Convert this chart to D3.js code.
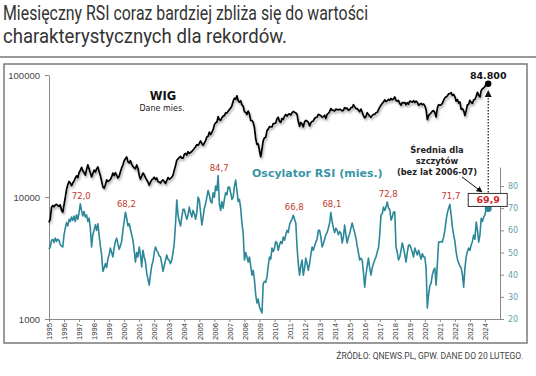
<!DOCTYPE html>
<html><head><meta charset="utf-8">
<script src="https://cdn.jsdelivr.net/npm/d3@7"></script>
<style>body{margin:0;background:#fff}svg{display:block}</style>
</head><body>
<svg id="c" width="536" height="376"></svg>
<script>
const titleLines = ["Miesięczny RSI coraz bardziej zbliża się do wartości", "charakterystycznych dla rekordów."];
const sourceText = "ŹRÓDŁO: QNEWS.PL, GPW. DANE DO 20 LUTEGO.";
const startYear = 1995;
const yearTicks = [1995,1996,1997,1998,1999,2000,2001,2002,2003,2004,2005,2006,2007,2008,2009,2010,2011,2012,2013,2014,2015,2016,2017,2018,2019,2020,2021,2022,2023,2024];
const wigTicks = [1000, 10000, 100000];
const rsiTicks = [20, 30, 40, 50, 60, 70, 80];

// WIG, monthly, from Jan 1995 to Feb 2024
const wigMonthly = [
 6200,6600,8200,8500,8300,8600,8700,8500,8400,8600,7800,7500,
 8600,9900,11500,12600,13400,13000,12400,13000,13500,14300,14900,14400,
 15800,16500,17500,16400,15800,15100,16800,18300,17000,15800,14600,15600,
 16600,16000,17000,17600,16200,15000,13500,12100,11800,12500,13800,13400,
 13600,13900,14600,15700,15000,15800,15100,14300,14800,16000,17300,18300,
 19800,20600,21300,19500,19000,19800,18600,17800,17300,17000,18300,17200,
 15100,14000,14800,15700,15200,14400,13800,13300,12500,13200,13800,14100,
 14500,13900,14300,13400,13200,13000,13500,13800,13400,12900,13600,14400,
 14000,14200,14500,15100,16600,18000,20000,20500,21000,21500,20800,20800,
 22300,22800,22000,23500,22800,23200,23600,24300,25000,25800,26800,26600,
 27500,28800,27500,26500,27700,29000,31000,31500,34000,32500,33800,35600,
 39000,40500,41000,45500,43000,42500,44500,46000,46500,49000,48800,50400,
 52000,53500,56000,61000,64500,63000,67500,61500,60000,61500,57000,55600,
 50000,49500,47500,50500,48000,42500,42300,41000,37000,30000,27000,27200,
 24000,21300,24500,29000,30500,30800,35000,36000,37700,37600,37500,39900,
 40000,40500,43800,45000,41500,40900,44000,43200,45900,47500,46000,47500,
 48000,47000,48900,50200,49500,48900,47500,41500,38000,40800,39700,37600,
 41300,42400,41900,41000,38200,40500,41600,42000,44000,45000,45200,47500,
 47000,46500,45000,45500,46800,44000,47500,48500,50000,53000,51500,51300,
 50600,52500,52000,51800,52400,51800,50800,51200,54000,53000,53500,51400,
 52000,54000,54000,57000,55000,53000,53000,51500,50000,52500,49500,46500,
 44500,45800,49000,47500,46000,45000,46500,47500,47500,49000,49300,51800,
 54500,56500,58500,60000,62500,60500,61500,63000,62000,64200,62500,63700,
 66000,62000,61000,61800,58500,56500,59500,59000,59500,57000,59300,57700,
 61000,60500,60000,61500,59500,61000,59800,56500,57500,58500,57000,57800,
 56000,52000,43000,46500,47800,49000,50500,51000,49000,45300,53500,57000,
 56500,57000,58500,62000,65000,66000,67500,70000,70500,71500,68000,69300,
 66500,61000,63000,59000,60000,52500,53000,51000,46500,51000,57000,57500,
 62000,59500,58500,62500,63000,67000,72000,68000,66000,74500,77000,78500,
 80500,84800
];

// Monthly RSI oscillator, Jan 1995 to Feb 2024
const rsiMonthly = [
 51.5,52.5,55.5,56,54.5,56.5,55,56,55.5,53.5,53,52.5,
 58,61,63.5,62,65,64,66,64.5,66.5,64,67,65,
 68,72,69,66.5,68.5,66,67,64,65.5,61,52.5,58,
 60,62.5,60,63,58,53,49,41.5,43,45,43.3,47,
 49,52,50,48,52,55,56.5,54,51.5,53,55,60,
 64,68.2,65.5,62,63,60.5,58,55.6,51,45.7,50,48,
 52.5,49,43.5,51,48,45.7,40.7,38,35.3,40,44,46,
 50,52.5,51,50,48.5,48,45,41.5,44,46.5,48.9,47,
 46.5,45,46.6,50,54.3,63,73.7,67,64,62,66,69.5,
 69.5,67,65,67,70.5,68,66,69,67.5,65,68,75,
 73.7,68,62.4,66,70,72,75,78,76,73,72.3,77,
 75,80,78,84.7,72,69,73,70,74,77,76,79.5,
 79.5,77,74,75,80,82.7,78,73,74,70,63.3,58.8,
 46.6,50,48,45.7,48,44,39.8,42,37.6,31,27.2,29,
 25.4,24,22.7,36,37,36.5,39,44,48,47,52,50.5,
 52,55,54.3,51,53.4,55,54,57,55.5,58,60,59,
 62.4,64,65,66.8,65,63.3,52.5,45,39.8,44,46.6,39.8,
 43,47.5,45,42,45,49,52.5,51,53,54.7,56,60,
 60,57,52.5,54,56,58,59,61,63.3,68.1,64,61,
 59,61,60,58,59.5,58.8,54.3,57,62.4,58,54.3,57,
 58.5,61,63.3,61,59,56.5,53,50,46.6,47.5,46.6,41,
 34.4,40,44,47.5,43,39.8,43,45,46.6,48,50.2,52,
 58,66.9,67.5,70.5,69,70.5,72.8,70,69.5,64.6,66,68.3,
 68.3,52.5,50,46.6,48,51,54.3,52,49,45.7,50,53.4,
 53.4,52,50,48,52,50.5,48.9,51,49,47,49.5,48,
 48,43,25,31,35,36.2,40,42,43,35.3,45,54.7,
 54.7,55,54.7,57,60,64.6,68,70,71.7,67,61.5,58,
 55,50.2,47,45.3,44,43,40,34.4,43,48,50.5,52,
 51,53.4,55,57.9,56,63.8,60,54.7,58,65.5,64,66,
 67,69.9
];

const peakMonths = [25, 61, 135, 195, 225, 270, 320];
const peakLabels = ["72,0", "68,2", "84,7", "66,8", "68,1", "72,8", "71,7"];
const lastWigLabel = "84.800";
const lastRsiLabel = "69,9";
const wigName = "WIG", wigSub = "Dane mies.";
const rsiName = "Oscylator RSI (mies.)";
const noteLines = ["Średnia dla", "szczytów", "(bez lat 2006-07)"];

const svg = d3.select("#c");
const date = i => startYear + i / 12;

const x = d3.scaleLinear().domain([1995, 2025]).range([49, 500]);
const yW = d3.scaleLog().domain([1000, 100000]).range([319, 75]);
const yR = d3.scaleLinear().domain([20, 88.6]).range([319, 167]);

// defs
const defs = svg.append("defs");
const f = defs.append("filter").attr("id","sh").attr("x","-5%").attr("y","-5%").attr("width","110%").attr("height","120%");
f.append("feDropShadow").attr("dx",1).attr("dy",2).attr("stdDeviation",1.3).attr("flood-color","#777").attr("flood-opacity",0.6);
defs.append("marker").attr("id","ah").attr("viewBox","0 0 10 10").attr("refX",9).attr("refY",5)
  .attr("markerWidth",6).attr("markerHeight",6).attr("orient","auto-start-reverse")
  .append("path").attr("d","M0,0L10,5L0,10z").attr("fill","#111");

// Title
svg.selectAll("text.title").data(titleLines).join("text").attr("class","title")
  .attr("x",3).attr("y",(d,i)=>20+i*23)
  .attr("font-family","'Liberation Sans Narrow','Roboto',sans-serif").attr("font-size",19.5)
  .attr("fill","#333")
  .attr("textLength",(d,i)=>i===0?365:284).attr("lengthAdjust","spacingAndGlyphs")
  .text(d=>d);
svg.append("line").attr("x1",0).attr("x2",536).attr("y1",57).attr("y2",57).attr("stroke","#9a9a9a").attr("stroke-width",2);

// Frame
svg.append("rect").attr("x",4).attr("y",64).attr("width",523).attr("height",279)
  .attr("fill","none").attr("stroke","#7a7a7a").attr("stroke-width",1.5);

// Source
svg.append("text").attr("x",523).attr("y",359).attr("text-anchor","end")
  .attr("font-family","'Liberation Sans Narrow','Roboto',sans-serif").attr("font-size",8.5)
  .attr("fill","#444").text(sourceText);

// Axes
const gL = svg.append("g").attr("transform","translate(49,0)")
  .call(d3.axisLeft(yW).tickValues(wigTicks).tickFormat(d3.format("d")).tickSize(4).tickPadding(5).tickSizeOuter(0));
gL.selectAll("text").attr("font-family","'Liberation Sans',Arial,sans-serif").attr("font-size",9.5).attr("fill","#444");

const gB = svg.append("g").attr("transform","translate(0,319)")
  .call(d3.axisBottom(x).tickValues(yearTicks).tickFormat(d3.format("d")).tickSize(3).tickSizeOuter(0));
gB.selectAll("text").attr("transform","rotate(-90)").attr("text-anchor","end")
  .attr("x",-4).attr("y",0).attr("dy","0.35em")
  .attr("font-family","'Liberation Sans',Arial,sans-serif").attr("font-size",7.6).attr("fill","#333");

const gR = svg.append("g").attr("transform","translate(500,0)")
  .call(d3.axisRight(yR).tickValues(rsiTicks).tickSize(4).tickPadding(4).tickSizeOuter(0));
gR.selectAll("text").attr("font-family","'DejaVu Sans',sans-serif").attr("font-size",8).attr("fill","#5f9fae");

[gL,gB,gR].forEach(g=>{g.selectAll("path,line").attr("stroke","#8a8a8a");});

// Lines
const wigLine = d3.line().x((d,i)=>x(date(i))).y(d=>yW(d));
const rsiLine = d3.line().x((d,i)=>x(date(i))).y(d=>yR(d));

svg.append("path").datum(rsiMonthly).attr("d",rsiLine).attr("fill","none")
  .attr("stroke","#2c8798").attr("stroke-width",1.6).attr("stroke-linejoin","round");
svg.append("path").datum(wigMonthly).attr("d",wigLine).attr("fill","none")
  .attr("stroke","#000").attr("stroke-width",1.8).attr("stroke-linejoin","round").attr("filter","url(#sh)");

// Peak labels
svg.selectAll("text.pk").data(peakMonths).join("text").attr("class","pk")
  .attr("x",d=>x(date(d))+1).attr("y",d=>yR(rsiMonthly[d])-5).attr("text-anchor","middle")
  .attr("font-family","'DejaVu Sans',sans-serif").attr("font-size",8.5).attr("fill","#c0392b")
  .text((d,i)=>peakLabels[i]);

// Series names
svg.append("text").attr("x",163).attr("y",100).attr("text-anchor","middle")
  .attr("font-family","'DejaVu Sans',sans-serif").attr("font-weight","bold").attr("font-size",11.5).attr("fill","#111").text(wigName);
svg.append("text").attr("x",162).attr("y",111).attr("text-anchor","middle")
  .attr("font-family","'DejaVu Sans',sans-serif").attr("font-size",8).attr("fill","#222").text(wigSub);
svg.append("text").attr("x",252).attr("y",177)
  .attr("font-family","'DejaVu Sans',sans-serif").attr("font-weight","bold").attr("font-size",11).attr("fill","#3a95a6").text(rsiName);

// Last points
const li = wigMonthly.length - 1;
const lx = x(date(li)) + 2;
svg.append("line").attr("x1",lx).attr("x2",lx).attr("y1",yR(rsiMonthly[li])-16).attr("y2",yW(wigMonthly[li])+7)
  .attr("stroke","#111").attr("stroke-width",1.2).attr("stroke-dasharray","1.5,1.5").attr("marker-end","url(#ah)");
svg.append("circle").attr("cx",lx).attr("cy",yW(wigMonthly[li])).attr("r",3.2).attr("fill","#000");
svg.append("text").attr("x",lx).attr("y",yW(wigMonthly[li])-5).attr("text-anchor","middle")
  .attr("font-family","'DejaVu Sans',sans-serif").attr("font-weight","bold").attr("font-size",9.5).attr("fill","#111").text(lastWigLabel);

svg.append("circle").attr("cx",lx).attr("cy",yR(rsiMonthly[li])).attr("r",3.5).attr("fill","#2c8798");
const by = yR(rsiMonthly[li]) - 15;
svg.append("rect").attr("x",lx-20).attr("y",by).attr("width",39).attr("height",13)
  .attr("fill","#fff").attr("stroke","#333").attr("stroke-width",1);
svg.append("text").attr("x",lx).attr("y",by+10).attr("text-anchor","middle")
  .attr("font-family","'DejaVu Sans',sans-serif").attr("font-weight","bold").attr("font-size",9.5).attr("fill","#d0282a").text(lastRsiLabel);

// Note
svg.selectAll("text.note").data(noteLines).join("text").attr("class","note")
  .attr("x",437).attr("y",(d,i)=>153+i*11).attr("text-anchor","middle")
  .attr("font-family","'DejaVu Sans',sans-serif").attr("font-weight","bold").attr("font-size",8.3).attr("fill","#222").text(d=>d);
svg.append("line").attr("x1",462).attr("y1",177).attr("x2",482).attr("y2",192)
  .attr("stroke","#111").attr("stroke-width",1).attr("marker-end","url(#ah)");
</script>
</body></html>
